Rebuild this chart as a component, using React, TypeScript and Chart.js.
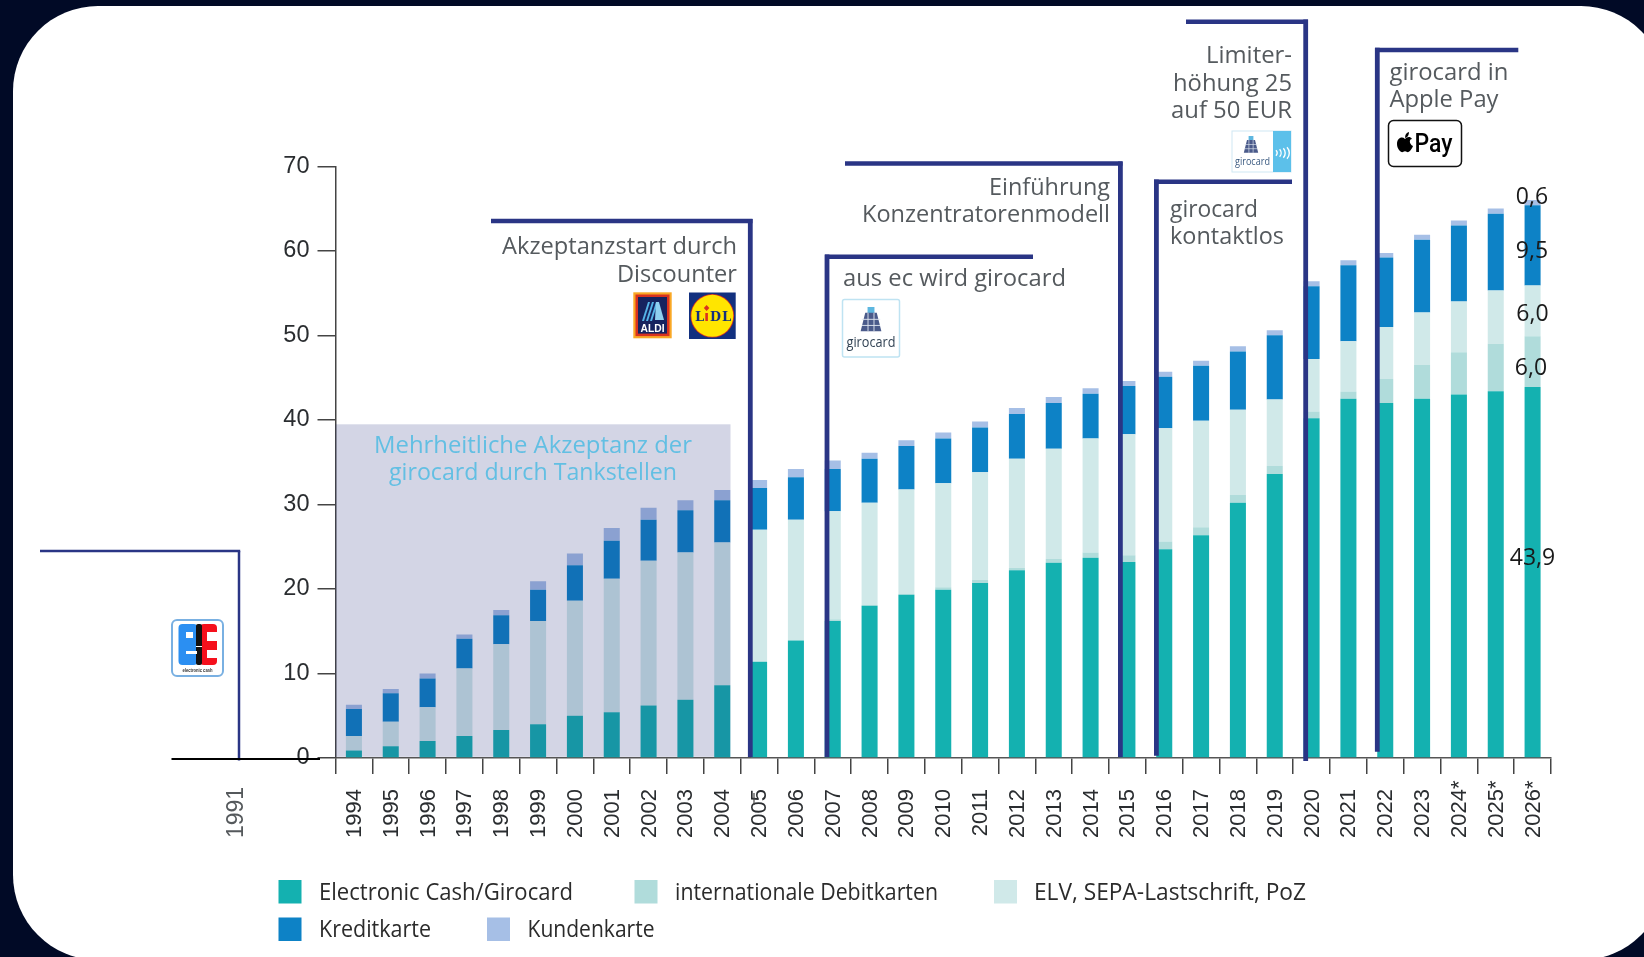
import React, { useEffect, useRef } from "react";
import { Chart, registerables } from "chart.js";

Chart.register(...registerables);

const years = ["1994","1995","1996","1997","1998","1999","2000","2001","2002","2003","2004","2005","2006","2007","2008","2009","2010","2011","2012","2013","2014","2015","2016","2017","2018","2019","2020","2021","2022","2023","2024*","2025*","2026*"];

const electronicCash = [0.9,1.4,2.0,2.6,3.3,4.0,5.0,5.4,6.2,6.9,8.6,11.4,13.9,16.2,18.0,19.3,19.9,20.7,22.2,23.1,23.7,23.2,24.7,26.35,30.2,33.6,40.2,42.5,42.0,42.5,43.0,43.4,43.9];
const debitKarten = [0,0,0,0,0,0,0,0,0,0,0,0,0,0.2,0.1,0.1,0.3,0.4,0.3,0.45,0.6,0.8,0.9,0.95,0.9,0.95,0.8,0.85,2.85,4.0,5.0,5.6,6.0];
const elv = [1.7,2.9,4.0,8.0,10.15,12.2,13.6,15.8,17.15,17.4,16.9,15.6,14.3,12.8,12.1,12.35,12.3,12.7,12.9,13.05,13.5,14.3,13.4,12.6,10.1,7.85,6.2,5.95,6.15,6.2,6.0,6.3,6.0];
const kreditkarte = [3.2,3.35,3.4,3.5,3.45,3.7,4.2,4.5,4.85,5.0,5.0,4.95,5.0,5.0,5.2,5.15,5.3,5.3,5.3,5.4,5.3,5.7,6.1,6.5,6.9,7.6,8.6,9.0,8.2,8.6,9.0,9.1,9.5];
const kundenkarte = [0.5,0.5,0.6,0.5,0.6,1.0,1.4,1.5,1.4,1.2,1.2,0.95,1.0,1.0,0.7,0.7,0.7,0.7,0.7,0.7,0.65,0.6,0.6,0.6,0.6,0.6,0.6,0.6,0.55,0.6,0.6,0.6,0.6];

const seriesNames = ["Electronic Cash/Girocard","internationale Debitkarten","ELV, SEPA-Lastschrift, PoZ","Kreditkarte","Kundenkarte"];
const seriesColors = ["#14b1b0","#b0dcdb","#d0e9e9","#0d82c6","#a6bfe6"];

const NAVY = "#2a3585";
const GREY = "#555a5e";
const SANS = '"Open Sans", sans-serif';

type Ctx = CanvasRenderingContext2D;

function seg(c: Ctx, x1: number, y1: number, x2: number, y2: number, w: number, col = NAVY) {
  c.strokeStyle = col; c.lineWidth = w; c.lineCap = "butt";
  c.beginPath(); c.moveTo(x1, y1); c.lineTo(x2, y2); c.stroke();
}
function txt(c: Ctx, s: string, x: number, y: number, w: number, align: CanvasTextAlign, col = GREY, font = `24px ${SANS}`) {
  c.font = font; c.fillStyle = col; c.textAlign = align; c.textBaseline = "alphabetic";
  c.fillText(s, x, y, w);
}
function terminal(c: Ctx, cx: number, top: number, s: number) {
  c.fillStyle = "#5db7e0";
  c.fillRect(cx - 3 * s, top, 6 * s, 6 * s);
  c.fillStyle = "#4a5a8a";
  c.beginPath();
  c.moveTo(cx - 5 * s, top + 5 * s); c.lineTo(cx + 5 * s, top + 5 * s);
  c.lineTo(cx + 9 * s, top + 21 * s); c.lineTo(cx - 9 * s, top + 21 * s);
  c.closePath(); c.fill();
  c.fillStyle = "#dfe6f0";
  for (let i = 1; i < 3; i++) c.fillRect(cx - 8 * s, top + 5 * s + i * 5.3 * s, 16 * s, 0.8 * s);
  for (let i = -1; i < 2; i += 2) c.fillRect(cx + i * 2.6 * s - 0.4 * s, top + 5 * s, 0.8 * s, 16 * s);
}
function ecLogo(c: Ctx) {
  c.fillStyle = "#fff"; c.strokeStyle = "#79b0e2"; c.lineWidth = 2;
  c.beginPath(); c.roundRect(172, 620, 51, 56, 5); c.fill(); c.stroke();
  c.fillStyle = "#2b8ff2"; c.beginPath(); c.roundRect(178.5, 624, 19, 41, 4); c.fill();
  c.fillStyle = "#f5101c"; c.beginPath(); c.roundRect(200, 624, 17, 41, 4); c.fill();
  c.fillStyle = "#111"; c.beginPath(); c.roundRect(196, 624, 6, 41, 2); c.fill();
  c.fillStyle = "#fff";
  c.fillRect(186, 632, 7, 6); c.fillRect(186, 651, 11, 3); c.fillRect(207, 632, 10, 9); c.fillRect(207, 650, 10, 8);
  c.fillRect(196, 646, 6, 1);
  txt(c, "electronic cash", 197.5, 672, 30, "center", "#333", `bold 6px "Liberation Sans"`);
}
function aldiLogo(c: Ctx) {
  c.fillStyle = "#f9a825"; c.fillRect(633.3, 292.3, 38.4, 46);
  c.fillStyle = "#d9321f"; c.fillRect(635.5, 294.5, 34, 41.6);
  c.fillStyle = "#16235f"; c.fillRect(638, 297, 29, 36.6);
  c.fillStyle = "#55b4e8";
  for (let i = 0; i < 3; i++) {
    const x = 642 + i * 4;
    c.beginPath(); c.moveTo(x, 321); c.lineTo(x + 6, 302); c.lineTo(x + 8, 302); c.lineTo(x + 2, 321); c.closePath(); c.fill();
  }
  c.fillStyle = "#8fd0f0";
  c.beginPath(); c.moveTo(656, 302); c.lineTo(659, 302); c.lineTo(664, 320); c.lineTo(655, 320); c.closePath(); c.fill();
  txt(c, "ALDI", 652.5, 332, 24, "center", "#fff", `bold 11px "Liberation Sans"`);
}
function lidlLogo(c: Ctx) {
  c.fillStyle = "#12307f"; c.fillRect(689, 292.5, 46.7, 46.5);
  c.fillStyle = "#d9321f";
  c.beginPath(); c.arc(712.3, 315.8, 21.8, 0, Math.PI * 2); c.fill();
  c.fillStyle = "#ffe500"; c.beginPath(); c.arc(712.3, 315.8, 21, 0, Math.PI * 2); c.fill();
  const f = `bold 13px "DejaVu Serif"`;
  txt(c, "L", 699.5, 321, 10, "center", "#12307f", f);
  txt(c, "D", 715.5, 321, 11, "center", "#12307f", f);
  txt(c, "L", 726.5, 321, 10, "center", "#12307f", f);
  c.fillStyle = "#d9321f"; c.fillRect(705.3, 313, 2.6, 8);
  c.beginPath(); c.moveTo(706.6, 305); c.lineTo(709.4, 308); c.lineTo(706.6, 311); c.lineTo(703.8, 308); c.closePath(); c.fill();
}
function applePay(c: Ctx) {
  c.fillStyle = "#fff"; c.strokeStyle = "#111"; c.lineWidth = 1.5;
  c.beginPath(); c.roundRect(1388.5, 120.5, 73, 46, 5); c.fill(); c.stroke();
  c.fillStyle = "#000";
  const x = 1405, y = 144;
  c.beginPath();
  c.moveTo(x, y - 5);
  c.bezierCurveTo(x - 3, y - 8, x - 8, y - 6, x - 8, y);
  c.bezierCurveTo(x - 8, y + 5, x - 4, y + 9, x - 2, y + 8);
  c.bezierCurveTo(x - 1, y + 7, x + 1, y + 7, x + 2, y + 8);
  c.bezierCurveTo(x + 4, y + 9, x + 7, y + 5, x + 8, y + 2);
  c.bezierCurveTo(x + 4, y, x + 4, y - 5, x + 7, y - 5);
  c.bezierCurveTo(x + 5, y - 8, x + 2, y - 7, x, y - 5);
  c.closePath(); c.fill();
  c.beginPath(); c.moveTo(x, y - 6); c.quadraticCurveTo(x, y - 11, x + 4, y - 12); c.quadraticCurveTo(x + 4, y - 7, x, y - 6); c.fill();
  txt(c, "Pay", 1433.5, 151.5, 38, "center", "#000", `500 25px "Roboto"`);
}

const backdrop = {
  id: "backdrop",
  beforeDraw(chart: any) {
    const c: Ctx = chart.ctx;
    c.save();
    c.fillStyle = "#010a26"; c.fillRect(0, 0, 1644, 957);
    c.fillStyle = "#fff"; c.beginPath(); c.roundRect(13, 6, 1653, 954, 85); c.fill();
    c.restore();
    // digits of the starred labels stay bottom-aligned with the others; the star runs upward
    const xs = chart.scales.x;
    for (const item of xs.getLabelItems(chart.chartArea)) {
      if (item._moved) continue;
      item._moved = true;
      item.options.translation[0] += 1;
      if (String(item.label).endsWith("*")) item.options.translation[1] -= 8.5;
    }
  },
};

const annotations = {
  id: "annotations",
  afterDatasetsDraw(chart: any) {
    const c: Ctx = chart.ctx;
    c.save();
    // shaded period
    c.fillStyle = "rgba(36,47,127,0.2)";
    c.fillRect(335.5, 424.3, 395, 332.5);

    // frames
    seg(c, 40, 551, 240.2, 551, 2.5);
    seg(c, 239, 551, 239, 760.5, 2.5);
    seg(c, 171.5, 759, 320, 759, 2, "#000");
    seg(c, 491, 221, 752.5, 221, 4.5);
    seg(c, 750.3, 219, 750.3, 757, 4.8);
    seg(c, 825, 256.7, 1033, 256.7, 4.5);
    seg(c, 827, 254.5, 827, 757, 4.8);
    seg(c, 845, 163.6, 1122.5, 163.6, 4.5);
    seg(c, 1120.4, 161.4, 1120.4, 757, 4.8);
    seg(c, 1154, 181.7, 1292, 181.7, 4.5);
    seg(c, 1156.4, 179.5, 1156.4, 755.7, 4.8);
    seg(c, 1186, 21.7, 1308, 21.7, 4.5);
    seg(c, 1305.7, 19.5, 1305.7, 761, 4.8);
    seg(c, 1375, 50, 1518.3, 50, 4.5);
    seg(c, 1377.3, 47.8, 1377.3, 751.7, 4.8);

    // notes
    txt(c, "Mehrheitliche Akzeptanz der", 533, 452.5, 318, "center", "#62bfe3");
    txt(c, "girocard durch Tankstellen", 533, 479.5, 288, "center", "#62bfe3");
    txt(c, "Akzeptanzstart durch", 737, 254, 235, "right");
    txt(c, "Discounter", 737, 281.7, 120, "right");
    txt(c, "aus ec wird girocard", 843, 286, 223, "left");
    txt(c, "Einführung", 1110, 195, 121, "right");
    txt(c, "Konzentratorenmodell", 1110, 222, 248, "right");
    txt(c, "girocard", 1170, 217, 88, "left");
    txt(c, "kontaktlos", 1170, 244, 114, "left");
    txt(c, "Limiter-", 1292, 63, 86, "right");
    txt(c, "höhung 25", 1292, 90.5, 119, "right");
    txt(c, "auf 50 EUR", 1292, 118, 121, "right");
    txt(c, "girocard in", 1389.5, 79.5, 119, "left");
    txt(c, "Apple Pay", 1389.5, 106.7, 109, "left");

    // 2026 values
    const vf = `23px ${SANS}`;
    txt(c, "0,6", 1532, 204, 34, "center", "#1a1a1a", vf);
    txt(c, "9,5", 1532, 257.5, 34, "center", "#1a1a1a", vf);
    txt(c, "6,0", 1532.5, 321, 34, "center", "#1a1a1a", vf);
    txt(c, "6,0", 1531, 375, 34, "center", "#1a1a1a", vf);
    txt(c, "43,9", 1532.5, 564.5, 47, "center", "#1a1a1a", vf);

    // detached 1991 label
    c.save();
    c.translate(243, 838);
    c.rotate(-Math.PI / 2);
    txt(c, "1991", 0, 0, 51, "left", "#55595c", `23px "Liberation Sans"`);
    c.restore();

    // stray mark over the 2005 label
    seg(c, 754, 793, 754, 805, 1.2, "#444");

    // logos
    ecLogo(c);
    aldiLogo(c);
    lidlLogo(c);
    c.fillStyle = "#fff"; c.strokeStyle = "#bfe3f2"; c.lineWidth = 1.5;
    c.beginPath(); c.roundRect(842.5, 299.5, 57, 57.5, 2); c.fill(); c.stroke();
    terminal(c, 871, 307, 1.15);
    txt(c, "girocard", 871, 346.5, 49, "center", "#345", `14.5px ${SANS}`);
    c.fillStyle = "#fff"; c.strokeStyle = "#cfe8f3"; c.lineWidth = 1;
    c.fillRect(1232, 131, 59, 41); c.strokeRect(1232, 131, 59, 41);
    c.fillStyle = "#5cc0ea"; c.fillRect(1273, 131, 18, 41);
    terminal(c, 1251, 136, 0.8);
    txt(c, "girocard", 1252.5, 165, 35, "center", "#3a5a80", `11px ${SANS}`);
    c.strokeStyle = "#fff"; c.lineWidth = 1.4;
    for (let i = 0; i < 4; i++) { c.beginPath(); c.arc(1273 + i * 2.6, 153, 4 + i * 1.5, -0.75, 0.75); c.stroke(); }
    applePay(c);

    // legend from the datasets
    const slots = [[278.5, 880, 319], [634.5, 880, 675], [994, 880, 1034], [278.5, 917.5, 319], [487, 917.5, 527.5]];
    const widths = [254, 263, 272, 112, 127];
    chart.data.datasets.forEach((d: any, i: number) => {
      const [bx, by, tx] = slots[i];
      c.fillStyle = d.backgroundColor;
      c.fillRect(bx, by, 23, 23.5);
      txt(c, d.label, tx, by + 19.5, widths[i], "left", "#2b2b2b", `24px ${SANS}`);
    });
    c.restore();
  },
};

export default function App() {
  const ref = useRef<HTMLCanvasElement>(null);
  useEffect(() => {
    document.body.style.margin = "0";
    document.body.style.background = "#010a26";
    const values = [electronicCash, debitKarten, elv, kreditkarte, kundenkarte];
    const chart = new Chart(ref.current as HTMLCanvasElement, {
      type: "bar",
      data: {
        labels: years,
        datasets: seriesNames.map((label, i) => ({
          label,
          data: values[i],
          backgroundColor: seriesColors[i],
          borderWidth: 0,
          barPercentage: 0.435,
          categoryPercentage: 1,
        })),
      },
      options: {
        responsive: false,
        animation: false,
        layout: { padding: { top: 166.3, right: 93, bottom: 0, left: 0 } },
        plugins: { legend: { display: false }, tooltip: { enabled: false } },
        scales: {
          x: {
            stacked: true,
            afterFit: (s: any) => { s.height = 199; },
            grid: { drawOnChartArea: false, tickLength: 16, color: "#444", lineWidth: 1.5 },
            border: { color: "#555", width: 1.5 },
            ticks: {
              autoSkip: false,
              minRotation: 90,
              maxRotation: 90,
              padding: 15,
              color: "#2a2d30",
              font: { family: '"Liberation Sans"', size: 22 },
            },
          },
          y: {
            stacked: true,
            min: 0,
            max: 70,
            afterFit: (s: any) => { s.width = 335.5; },
            grid: { drawOnChartArea: false, tickLength: 18, color: "#444", lineWidth: 1.5 },
            border: { color: "#444", width: 1.5 },
            ticks: {
              stepSize: 10,
              padding: 8,
              color: "#2a2d30",
              font: { family: '"Liberation Sans"', size: 23.5 },
            },
          },
        },
      },
      plugins: [backdrop, annotations],
    } as any);
    return () => chart.destroy();
  }, []);
  return <canvas ref={ref} width={1644} height={957} style={{ display: "block", width: 1644, height: 957 }} />;
}
